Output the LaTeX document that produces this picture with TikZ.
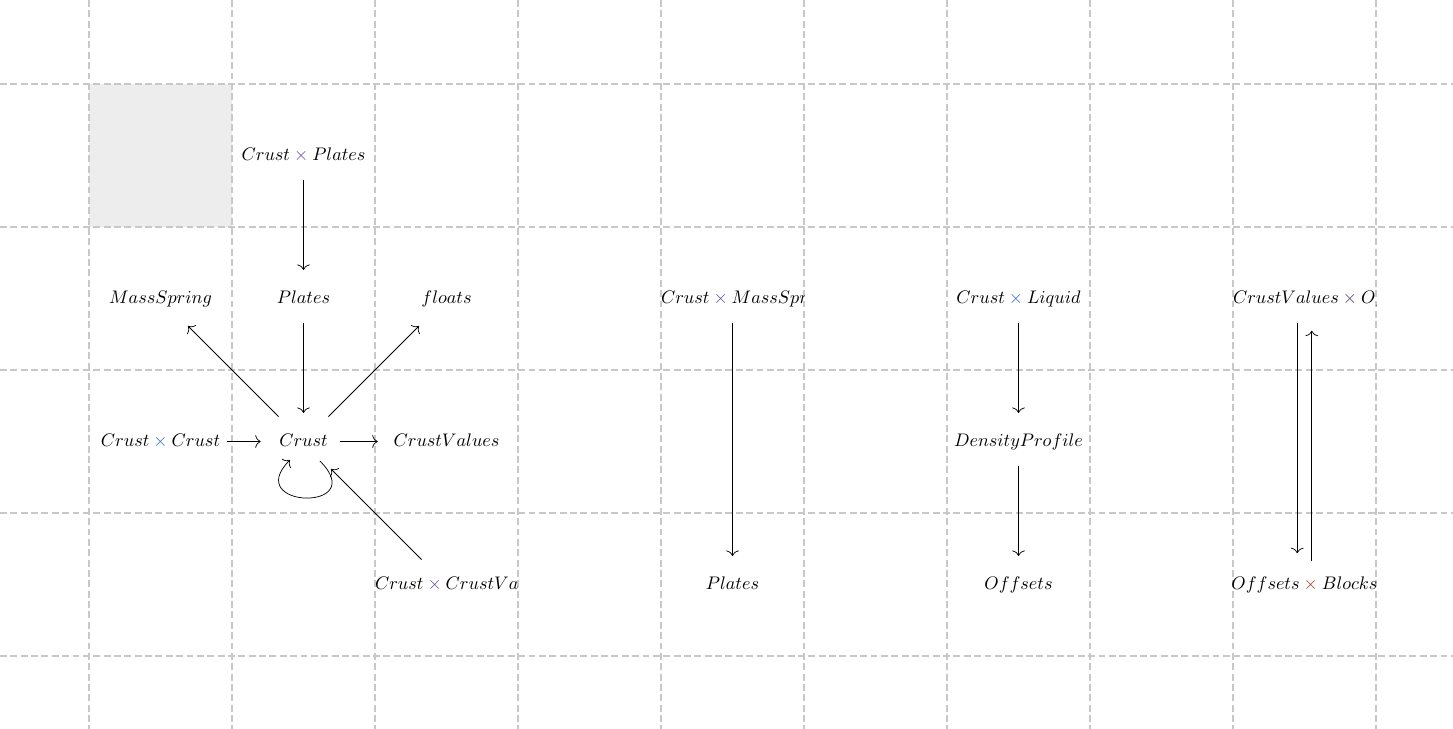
\documentclass[tikz,border=0pt]{standalone}
\usetikzlibrary{arrows.meta}
\definecolor{gridc}{RGB}{200,200,200}
\definecolor{shadec}{RGB}{237,237,237}
\definecolor{xblue}{RGB}{40,110,210}
\definecolor{xpurple}{RGB}{100,70,170}
\definecolor{xdark}{RGB}{80,60,100}
\definecolor{xred}{RGB}{170,50,40}
\newcommand\mytimes[1]{\mathbin{\textcolor{#1}{\times}}}
\newcommand\cellbox[1]{\makebox[78.65pt][l]{#1}}
\begin{document}
\begin{tikzpicture}[x=0.55pt,y=-0.55pt,
  gridline/.style={draw=gridc,line width=1.1pt,dash pattern=on 3.8pt off 1.9pt},
  cell/.style={inner xsep=6.5pt,inner ysep=9pt,text height=7pt,text depth=2pt},
  arr/.style={-{To[length=3pt,width=7pt]},shorten >=2pt}]
\useasboundingbox (0,0) rectangle (1453,729);
% shaded cell
\fill[shadec] (89,84) rectangle (232,227);
% grid
\foreach \i in {0,...,9} \draw[gridline] (89+143*\i,0) -- (89+143*\i,729);
\foreach \j in {0,...,4} \draw[gridline] (0,84+143*\j) -- (1453,84+143*\j);
% nodes
\node[cell] (cp) at (303.5,155.5) {$Crust\mytimes{xpurple}Plates$};
\node[cell] (mass) at (160.5,298.5) {$MassSpring$};
\node[cell] (plates) at (303.5,298.5) {$Plates$};
\node[cell] (floats) at (446.5,298.5) {$floats$};
\node[cell] (cc) at (160.5,441.5) {$Crust\mytimes{xblue}Crust$};
\node[cell] (crust) at (303.5,441.5) {$Crust$};
\node[cell] (cv) at (446.5,441.5) {$CrustValues$};
\begin{scope}
  \clip (375,513) rectangle (518,656);
  \node[cell] (ccv) at (446.5,584.5) {\cellbox{$Crust\mytimes{xpurple}CrustValues$}};
\end{scope}
\begin{scope}
  \clip (661,227) rectangle (804,370);
  \node[cell] (cms) at (732.5,298.5) {\cellbox{$Crust\mytimes{xpurple}MassSpring$}};
\end{scope}
\node[cell] (plates2) at (732.5,584.5) {$Plates$};
\node[cell] (cl) at (1018.5,298.5) {$Crust\mytimes{xblue}Liquid$};
\node[cell] (dp) at (1018.5,441.5) {$DensityProfile$};
\node[cell] (off) at (1018.5,584.5) {$Offsets$};
\begin{scope}
  \clip (1233,227) rectangle (1376,370);
  \node[cell] (cvo) at (1304.5,298.5) {\cellbox{$CrustValues\mytimes{xdark}Offsets$}};
\end{scope}
\node[cell] (ob) at (1304.5,584.5) {$Offsets\mytimes{xred}Blocks$};
% arrows
\draw[arr] (cp) -- (plates);
\draw[arr] (plates) -- (crust);
\draw[arr] (crust) -- (mass);
\draw[arr] (crust) -- (floats);
\draw[arr,shorten <=-3pt,shorten >=3.5pt] (cc) -- (crust);
\draw[arr] (crust) -- (cv);
\draw[arr] ([xshift=9pt,yshift=3pt]crust.south) .. controls +(-45:40pt) and +(-135:40pt) .. ([xshift=-6pt,yshift=5pt]crust.south);
\draw[arr] (ccv) -- (crust);
\draw[arr] (cms) -- (plates2);
\draw[arr] (cl) -- (dp);
\draw[arr] (dp) -- (off);
\draw[arr,shorten >=3.5pt] ([xshift=-4pt]cvo.south) -- ([xshift=-4pt]ob.north);
\draw[arr,shorten <=-1pt,shorten >=4pt] ([xshift=4pt]ob.north) -- ([xshift=4pt]cvo.south);
\end{tikzpicture}
\end{document}
